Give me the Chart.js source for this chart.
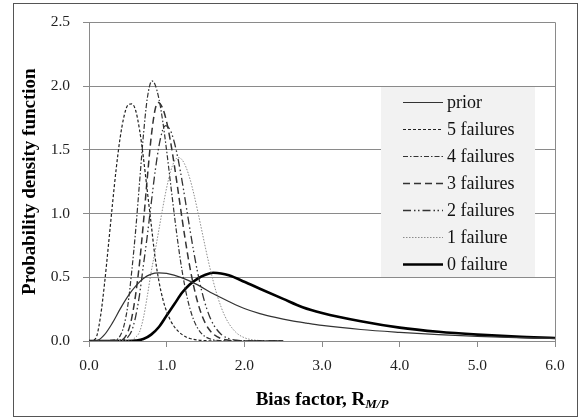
<!DOCTYPE html>
<html>
<head>
<meta charset="utf-8">
<script src="https://cdn.jsdelivr.net/npm/chart.js@4.4.1/dist/chart.umd.min.js"></script>
<style>
  html, body { margin: 0; padding: 0; background: #fff; }
  #wrap { position: relative; width: 581px; height: 419px; }
</style>
</head>
<body>
<div id="wrap"><canvas id="pdfChart" width="581" height="419"></canvas></div>
<script>
// ── Data: bias factor (x) vs. probability density (y) ───────────────────────
const xTicks = [0, 1, 2, 3, 4, 5, 6];
const yTicks = [0, 0.5, 1.0, 1.5, 2.0, 2.5];

const priorX = [0, 0.1, 0.2, 0.3, 0.4, 0.5, 0.6, 0.7, 0.8, 0.9, 1.0, 1.2, 1.4, 1.6, 1.8, 2.0, 2.2, 2.4, 2.6, 2.8, 3.0, 3.5, 4.0, 4.5, 5.0, 5.5, 6.0];
const priorY = [0, 0.003, 0.05, 0.14, 0.25, 0.35, 0.43, 0.49, 0.525, 0.535, 0.53, 0.495, 0.44, 0.37, 0.31, 0.255, 0.215, 0.185, 0.16, 0.14, 0.122, 0.09, 0.068, 0.05, 0.037, 0.027, 0.02];

const fail5X = [0, 0.05, 0.1, 0.15, 0.2, 0.25, 0.3, 0.35, 0.4, 0.45, 0.5, 0.55, 0.6, 0.65, 0.7, 0.75, 0.8, 0.85, 0.9, 0.95, 1.0, 1.05, 1.1, 1.15, 1.2, 1.25, 1.3, 1.4, 1.5, 1.6, 2.5];
const fail5Y = [0, 0.005, 0.04, 0.2, 0.45, 0.75, 1.06, 1.35, 1.59, 1.76, 1.85, 1.86, 1.81, 1.66, 1.44, 1.18, 0.92, 0.66, 0.47, 0.33, 0.23, 0.16, 0.11, 0.075, 0.05, 0.032, 0.02, 0.008, 0.003, 0, 0];

const fail4X = [0, 0.35, 0.4, 0.45, 0.5, 0.55, 0.6, 0.65, 0.7, 0.75, 0.81, 0.85, 0.9, 0.95, 1.0, 1.05, 1.1, 1.15, 1.2, 1.25, 1.3, 1.35, 1.4, 1.45, 1.5, 1.6, 1.7, 1.8, 2.5];
const fail4Y = [0, 0.01, 0.04, 0.12, 0.28, 0.545, 0.862, 1.237, 1.611, 1.901, 2.04, 2.012, 1.901, 1.721, 1.491, 1.237, 0.983, 0.748, 0.545, 0.38, 0.254, 0.162, 0.1, 0.058, 0.033, 0.009, 0.002, 0, 0];

const fail3X = [0, 0.4, 0.45, 0.5, 0.55, 0.6, 0.65, 0.7, 0.75, 0.8, 0.85, 0.89, 0.95, 1.0, 1.05, 1.1, 1.15, 1.2, 1.25, 1.3, 1.35, 1.4, 1.45, 1.5, 1.55, 1.6, 1.7, 1.8, 1.9, 2.0, 2.5];
const fail3Y = [0, 0.005, 0.02, 0.07, 0.18, 0.362, 0.607, 0.924, 1.275, 1.596, 1.812, 1.87, 1.823, 1.718, 1.563, 1.373, 1.164, 0.953, 0.754, 0.575, 0.424, 0.302, 0.207, 0.137, 0.088, 0.055, 0.019, 0.006, 0.001, 0, 0];

const fail2X = [0, 0.45, 0.5, 0.55, 0.6, 0.65, 0.7, 0.75, 0.8, 0.85, 0.9, 0.95, 0.99, 1.05, 1.1, 1.15, 1.2, 1.25, 1.3, 1.35, 1.4, 1.45, 1.5, 1.55, 1.6, 1.7, 1.8, 1.9, 2.0, 2.1, 2.5];
const fail2Y = [0, 0.01, 0.03, 0.08, 0.19, 0.36, 0.591, 0.823, 1.076, 1.323, 1.527, 1.656, 1.69, 1.649, 1.555, 1.418, 1.249, 1.063, 0.874, 0.695, 0.534, 0.396, 0.284, 0.197, 0.132, 0.053, 0.019, 0.006, 0.002, 0, 0];

const fail1X = [0, 0.55, 0.6, 0.65, 0.7, 0.75, 0.8, 0.85, 0.9, 0.95, 1.0, 1.05, 1.1, 1.15, 1.2, 1.25, 1.3, 1.35, 1.4, 1.45, 1.5, 1.55, 1.6, 1.65, 1.7, 1.75, 1.8, 1.9, 2.0, 2.1, 2.2, 2.3, 2.5];
const fail1Y = [0, 0.01, 0.03, 0.07, 0.18, 0.35, 0.54, 0.701, 0.873, 1.046, 1.203, 1.329, 1.411, 1.44, 1.42, 1.362, 1.271, 1.153, 1.018, 0.873, 0.729, 0.592, 0.468, 0.359, 0.268, 0.195, 0.138, 0.063, 0.026, 0.01, 0.004, 0.001, 0];

const fail0X = [0, 0.5, 0.6, 0.7, 0.8, 0.9, 1.0, 1.1, 1.2, 1.3, 1.4, 1.5, 1.6, 1.7, 1.8, 2.0, 2.2, 2.5, 2.75, 3.0, 3.5, 4.0, 4.5, 5.0, 5.5, 6.0];
const fail0Y = [0, 0, 0.003, 0.015, 0.05, 0.11, 0.2, 0.29, 0.38, 0.445, 0.49, 0.52, 0.535, 0.53, 0.515, 0.465, 0.41, 0.33, 0.265, 0.22, 0.155, 0.105, 0.072, 0.05, 0.034, 0.024];

const SERIF = '"Liberation Serif", "Times New Roman", serif';
const GRID = '#8a8a8a';

function toPoints(xs, ys) {
    return xs.map((x, i) => ({ x, y: ys[i] }));
}

function curve(label, xs, ys, color, width, dash) {
    return {
        label,
        data: toPoints(xs, ys),
        borderColor: color,
        borderWidth: width,
        borderDash: dash,
        pointRadius: 0,
        fill: false,
        cubicInterpolationMode: 'monotone',
    };
}

// ── Legend panel drawn inside the plot area ─────────────────────────────────
const LEGEND = { left: 381, top: 87, width: 154, height: 190, firstRow: 101.5, rowGap: 27.05, lineFrom: 403, lineTo: 443, textX: 447 };

const legendPanel = {
    id: 'legendPanel',
    beforeDatasetsDraw(chart) {
        const c = chart.ctx;
        c.save();
        c.fillStyle = '#f2f2f2';
        c.fillRect(LEGEND.left, LEGEND.top, LEGEND.width, LEGEND.height);
        chart.data.datasets.forEach((ds, i) => {
            const y = Math.round(LEGEND.firstRow + i * LEGEND.rowGap) + 0.5;
            c.beginPath();
            c.setLineDash(ds.borderDash || []);
            c.lineWidth = ds.borderWidth;
            c.strokeStyle = ds.borderColor;
            c.moveTo(LEGEND.lineFrom, y);
            c.lineTo(LEGEND.lineTo, y);
            c.stroke();
            c.setLineDash([]);
            c.fillStyle = '#111';
            c.font = '18px ' + SERIF;
            c.textBaseline = 'middle';
            c.fillText(ds.label, LEGEND.textX, y + 1);
        });
        c.restore();
    }
};

// ── Frame, right plot edge and x-axis title with subscript ──────────────────
const decorations = {
    id: 'decorations',
    beforeDatasetsDraw(chart) {
        const { ctx: c, chartArea: a } = chart;
        c.save();
        c.strokeStyle = GRID;
        c.lineWidth = 1;
        c.beginPath();
        c.moveTo(Math.round(a.right) + 0.5, a.top);
        c.lineTo(Math.round(a.right) + 0.5, a.bottom);
        c.stroke();
        c.restore();
    },
    afterDraw(chart) {
        const { ctx: c, chartArea: a } = chart;
        c.save();
        c.strokeStyle = '#555';
        c.lineWidth = 1;
        c.strokeRect(13.5, 3.5, 564, 413);

        const main = 'Bias factor, R';
        const sub = 'M/P';
        const mainFont = 'bold 19px ' + SERIF;
        const subFont = 'bold italic 13px ' + SERIF;
        c.font = mainFont;
        const w1 = c.measureText(main).width;
        c.font = subFont;
        const w2 = c.measureText(sub).width;
        const x0 = (a.left + a.right) / 2 - (w1 + w2) / 2;
        c.fillStyle = '#000';
        c.textBaseline = 'alphabetic';
        c.font = mainFont;
        c.fillText(main, x0, 405);
        c.font = subFont;
        c.fillText(sub, x0 + w1, 408);
        c.restore();
    }
};

const ctx = document.getElementById('pdfChart').getContext('2d');
const chart = new Chart(ctx, {
    type: 'line',
    data: {
        datasets: [
            curve('prior', priorX, priorY, '#333', 1.2, []),
            curve('5 failures', fail5X, fail5Y, '#222', 1.2, [3, 2]),
            curve('4 failures', fail4X, fail4Y, '#333', 1.2, [5, 2, 1.5, 2]),
            curve('3 failures', fail3X, fail3Y, '#333', 1.5, [7, 4]),
            curve('2 failures', fail2X, fail2Y, '#333', 1.3, [8, 3, 1.5, 2.5, 1.5, 3]),
            curve('1 failure', fail1X, fail1Y, '#8c8c8c', 1, [1.5, 1.5]),
            curve('0 failure', fail0X, fail0Y, '#000', 2.6, []),
        ]
    },
    options: {
        responsive: false,
        devicePixelRatio: 1,
        animation: false,
        layout: { padding: { left: 0, right: 26, top: 22, bottom: 0 } },
        plugins: {
            legend: { display: false },
            tooltip: { enabled: false }
        },
        scales: {
            x: {
                type: 'linear',
                min: 0, max: 6,
                afterBuildTicks: (scale) => { scale.ticks = xTicks.map(v => ({ value: v })); },
                afterFit: (scale) => { scale.height = 78; },
                grid: { display: true, drawOnChartArea: false, drawTicks: true, tickLength: 6, color: GRID },
                border: { display: true, color: GRID },
                ticks: {
                    color: '#222',
                    padding: 10,
                    font: { family: SERIF, size: 15.5 },
                    callback: (v) => Number(v).toFixed(1)
                }
            },
            y: {
                min: 0, max: 2.5,
                afterBuildTicks: (scale) => { scale.ticks = yTicks.map(v => ({ value: v })); },
                afterFit: (scale) => { scale.width = 89; },
                grid: { color: GRID, tickLength: 6, drawTicks: true },
                border: { display: true, color: GRID },
                ticks: {
                    color: '#222',
                    padding: 13,
                    font: { family: SERIF, size: 15.5 },
                    callback: (v) => Number(v).toFixed(1)
                },
                title: {
                    display: true,
                    text: 'Probability density function',
                    color: '#000',
                    font: { family: SERIF, size: 19, weight: 'bold' },
                    padding: { top: 19, bottom: 0 }
                }
            }
        }
    },
    plugins: [legendPanel, decorations]
});
</script>
</body>
</html>
